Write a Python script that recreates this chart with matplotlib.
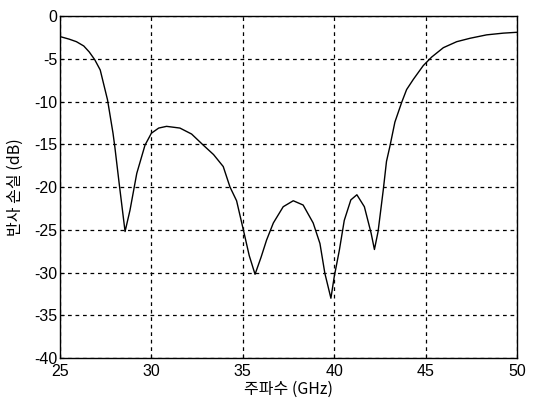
import matplotlib
matplotlib.use('Agg')
import matplotlib.pyplot as plt

# values
freq_ghz = [25.0, 25.5, 25.9, 26.3, 26.6, 26.9, 27.2, 27.6, 27.9, 28.0, 28.25, 28.56,
            28.83, 29.2, 29.65, 30.0, 30.4, 30.83, 31.56, 32.2, 32.84, 33.4,
            33.93, 34.3, 34.66, 35.03, 35.35, 35.67, 36.0, 36.3, 36.67, 37.21,
            37.76, 38.3, 38.85, 39.22, 39.49, 39.82, 40.0, 40.28, 40.55, 40.91,
            41.24, 41.65, 42.02, 42.2, 42.4, 42.68, 42.86, 43.05, 43.32, 43.69,
            43.96, 44.33, 44.6, 44.87, 45.33, 45.97, 46.7, 47.43, 48.34, 49.25, 50.0]
loss_db = [-2.4, -2.7, -3.0, -3.5, -4.2, -5.1, -6.3, -9.8, -13.7, -15.3, -19.8, -25.2,
           -22.7, -18.4, -15.1, -13.7, -13.1, -12.9, -13.1, -13.8, -15.1, -16.2,
           -17.6, -20.0, -21.6, -25.0, -28.0, -30.2, -28.2, -26.2, -24.2, -22.3,
           -21.6, -22.1, -24.2, -26.6, -30.1, -33.0, -30.5, -27.4, -23.9, -21.5,
           -20.9, -22.3, -25.4, -27.3, -25.2, -20.4, -17.0, -15.2, -12.4, -10.1,
           -8.6, -7.4, -6.6, -5.8, -4.8, -3.7, -3.0, -2.6, -2.2, -2.0, -1.9]

x_ticks = [25, 30, 35, 40, 45, 50]
y_ticks = [0, -5, -10, -15, -20, -25, -30, -35, -40]

plt.rcParams['font.family'] = ['Liberation Sans', 'Noto Sans CJK KR', 'DejaVu Sans']
plt.rcParams['axes.unicode_minus'] = False

fig = plt.figure(figsize=(5.38, 4.01), dpi=100)
ax = fig.add_axes([0.1115, 0.107, 0.8495, 0.853])

ax.plot(freq_ghz, loss_db, color='black', linewidth=1.0)

ax.set_xlim(25, 50)
ax.set_ylim(-40, 0)
ax.set_xticks(x_ticks)
ax.set_yticks(y_ticks)
ax.tick_params(direction='in', length=3, labelsize=11.5, colors='black')
ax.tick_params(axis='x', pad=4)
ax.tick_params(axis='y', pad=2)
ax.grid(True, color='black', linestyle=(0, (3, 3)), linewidth=0.9)
for s in ax.spines.values():
    s.set_color('black')
    s.set_linewidth(1.0)

ax.set_xlabel('주파수 (GHz)', fontsize=11.5, family=['Noto Sans CJK KR', 'DejaVu Sans'], va='center')
ax.set_ylabel('반사 손실 (dB)', fontsize=11.5, family=['Noto Sans CJK KR', 'DejaVu Sans'], va='center')
ax.xaxis.set_label_coords(0.5, -0.092)
ax.yaxis.set_label_coords(-0.098, 0.5)

fig.savefig('out.png', dpi=100)
